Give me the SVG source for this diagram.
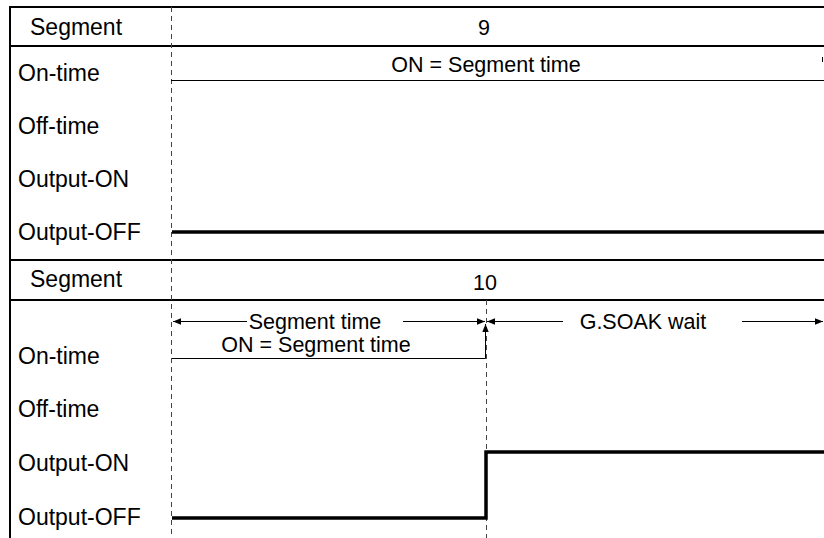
<svg xmlns="http://www.w3.org/2000/svg" width="824" height="538" viewBox="0 0 824 538">
<style>
text{font-family:"Liberation Sans",Arial,sans-serif;font-size:21.5px;fill:#000}
.lab{font-size:23px}
.mid{text-anchor:middle}
.frame{stroke:#000;stroke-width:2;fill:none}
.thin{stroke:#000;stroke-width:1;fill:none}
.dash{stroke:#444;stroke-width:1;stroke-dasharray:5,4;fill:none}
.sig{stroke:#000;stroke-width:3.5;fill:none}
.arr{stroke:#000;stroke-width:1;fill:none;marker-end:url(#ah)}
</style>
<defs>
<marker id="ah" viewBox="0 0 10 10" refX="10" refY="5" markerWidth="10" markerHeight="8" markerUnits="userSpaceOnUse" orient="auto">
<path d="M0,1 L10,5 L0,9 z" fill="#000"/>
</marker>
</defs>
<g id="frame">
<line class="frame" x1="10" y1="6" x2="10" y2="538"/>
<line class="frame" x1="9" y1="7" x2="824" y2="7"/>
<line class="frame" x1="9" y1="46" x2="824" y2="46"/>
<line class="frame" x1="9" y1="260" x2="824" y2="260"/>
<line class="frame" x1="9" y1="300" x2="824" y2="300"/>
<line class="dash" x1="171.5" y1="7" x2="171.5" y2="538"/>
<line class="dash" x1="486.5" y1="300" x2="486.5" y2="538"/>
</g>
<g id="labels">
<text class="lab" x="30" y="35">Segment</text>
<text class="lab" x="18" y="81">On-time</text>
<text class="lab" x="18" y="134">Off-time</text>
<text class="lab" x="18" y="187">Output-ON</text>
<text class="lab" x="18" y="240">Output-OFF</text>
<text class="lab" x="30" y="287">Segment</text>
<text class="lab" x="18" y="364">On-time</text>
<text class="lab" x="18" y="417">Off-time</text>
<text class="lab" x="18" y="471">Output-ON</text>
<text class="lab" x="18" y="525">Output-OFF</text>
</g>
<g id="segment9">
<text class="mid" x="484" y="35">9</text>
<text class="mid" x="486" y="72">ON = Segment time</text>
<line class="thin" x1="171" y1="80.5" x2="824" y2="80.5"/>
<line class="thin" x1="822.5" y1="57" x2="822.5" y2="62"/>
<line class="sig" x1="172" y1="232" x2="824" y2="232"/>
</g>
<g id="segment10">
<text class="mid" x="485" y="290">10</text>
<text class="mid" x="315" y="329">Segment time</text>
<text class="mid" x="316" y="352">ON = Segment time</text>
<text class="mid" x="643" y="329">G.SOAK wait</text>
</g>
<g id="connectors">
<line class="arr" x1="247" y1="321.5" x2="173" y2="321.5"/>
<line class="arr" x1="403" y1="321.5" x2="485" y2="321.5"/>
<line class="arr" x1="563" y1="321.5" x2="487" y2="321.5"/>
<line class="arr" x1="742" y1="321.5" x2="823" y2="321.5"/>
<polyline class="thin" points="172,358.5 485.5,358.5 485.5,333"/>
<line class="arr" x1="485.5" y1="340" x2="485.5" y2="324"/>
<polyline class="sig" points="172,518 486,518 486,452 824,452"/>
</g>
</svg>
